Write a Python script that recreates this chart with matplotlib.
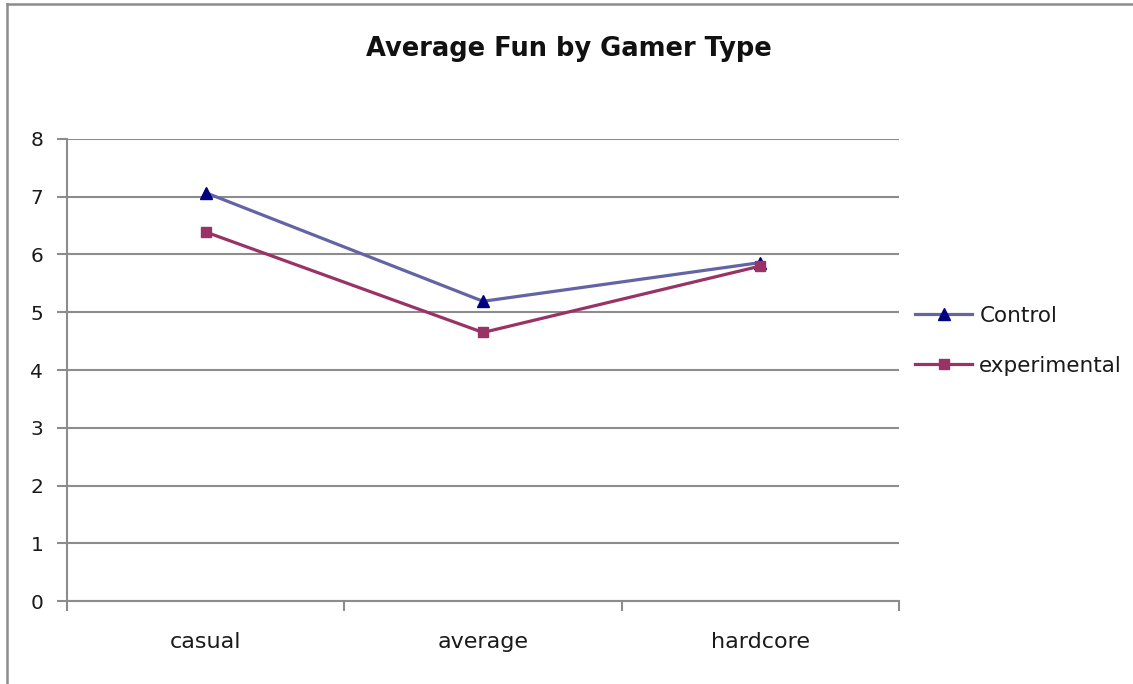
import matplotlib.pyplot as plt
from matplotlib.lines import Line2D

# Average fun score per gamer type
gamer_types = ['casual', 'average', 'hardcore']
control = [7.07, 5.19, 5.86]
experimental = [6.39, 4.65, 5.80]

fig = plt.figure(figsize=(11.33, 6.84), dpi=100)
ax = fig.add_axes([0.0591, 0.1213, 0.7344, 0.6755])

grid_col = '#8c8c8c'
x = list(range(len(gamer_types)))

ax.plot(x, control, color='#6464a4', linewidth=2.3, marker='^',
        markersize=9, markerfacecolor='#000080', markeredgecolor='#000080',
        label='Control', zorder=3)
ax.plot(x, experimental, color='#993366', linewidth=2.3, marker='s',
        markersize=7.5, markerfacecolor='#993366', markeredgecolor='#993366',
        label='experimental', zorder=3)

ax.set_xlim(-0.5, len(gamer_types) - 0.5)
ax.set_ylim(0, 8)
ax.set_yticks(range(0, 9))
ax.yaxis.grid(True, color=grid_col, linewidth=1.5)
ax.set_axisbelow(True)

# category boundaries get the tick marks, names sit between them
ax.set_xticks([i - 0.5 for i in range(len(gamer_types) + 1)])
ax.set_xticklabels([])
ax.set_xticks(x, minor=True)
ax.set_xticklabels(gamer_types, minor=True)
ax.tick_params(axis='x', which='major', length=7, width=1.5, color=grid_col, direction='out')
ax.tick_params(axis='x', which='minor', length=0, pad=22, labelsize=16, labelcolor='#1a1a1a')
ax.tick_params(axis='y', length=7, width=1.5, color=grid_col, pad=10, labelsize=14.5,
               labelcolor='#1a1a1a')

for side in ['top', 'right']:
    ax.spines[side].set_visible(False)
for side in ['left', 'bottom']:
    ax.spines[side].set_color(grid_col)
    ax.spines[side].set_linewidth(1.5)

fig.text(0.502, 0.928, 'Average Fun by Gamer Type', ha='center', va='center',
         fontsize=18.5, fontweight='bold', color='#111111')

leg = ax.legend(loc='center left', bbox_to_anchor=(1.009, 0.563), frameon=False,
                fontsize=15.5, handlelength=2.65, handletextpad=0.33, labelspacing=1.4,
                borderaxespad=0)
for t in leg.get_texts():
    t.set_color('#1a1a1a')

# outer chart border (left and top edges)
fig.add_artist(Line2D([0.0066, 0.0066], [0.0, 0.9945], color='#8c8c8c',
                      linewidth=1.8, transform=fig.transFigure))
fig.add_artist(Line2D([0.0066, 1.0], [0.9945, 0.9945], color='#8c8c8c',
                      linewidth=1.8, transform=fig.transFigure))

fig.savefig('out.png', dpi=100)
